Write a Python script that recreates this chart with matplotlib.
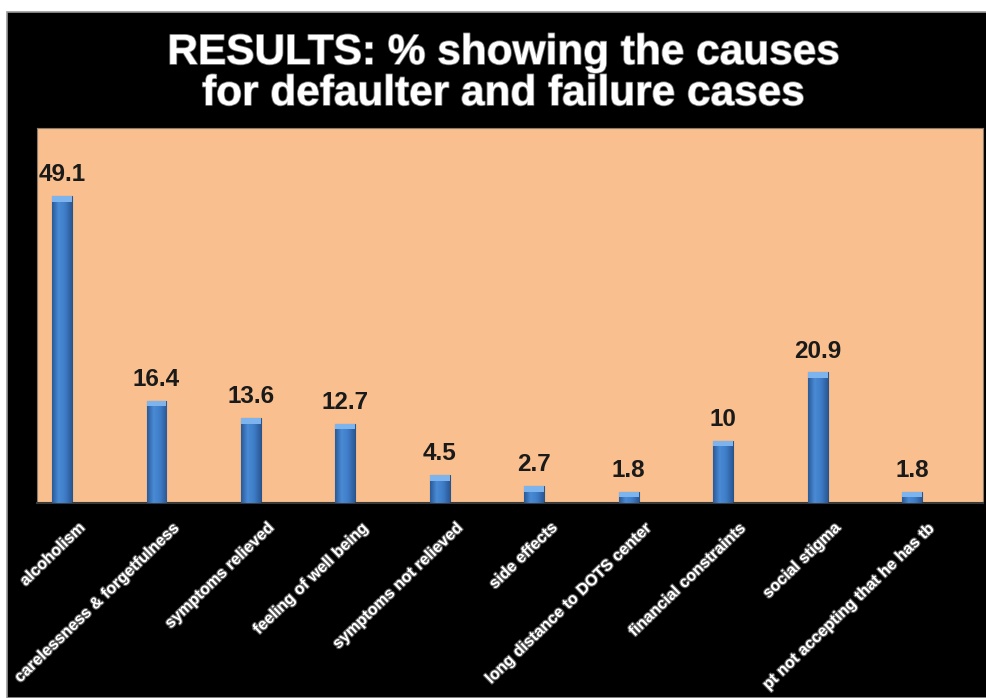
import numpy as np
import matplotlib
matplotlib.use("Agg")
import matplotlib.pyplot as plt
import matplotlib.patheffects as pe
from matplotlib.patches import Rectangle
from matplotlib.colors import LinearSegmentedColormap
from matplotlib.transforms import ScaledTranslation

# ------------------------------
#    DATA
# ------------------------------
causes = [
    "alcoholism",
    "carelessness & forgetfulness",
    "symptoms relieved",
    "feeling of well being",
    "symptoms not relieved",
    "side effects",
    "long distance to DOTS center",
    "financial constraints",
    "social stigma",
    "pt not accepting that he has tb",
]
percent = [49.1, 16.4, 13.6, 12.7, 4.5, 2.7, 1.8, 10, 20.9, 1.8]

title_lines = ["RESULTS: % showing the causes", "for defaulter and failure cases"]

plt.rcParams['font.family'] = ['Liberation Sans', 'DejaVu Sans']

W, H = 986, 698
fig = plt.figure(figsize=(W / 100, H / 100), dpi=100, facecolor='white')

# black slide background with a thin gray frame (behind the axes)
fig.patches.append(Rectangle((7 / W, 0), 1, (H - 12) / H, transform=fig.transFigure,
                             facecolor='black', edgecolor='#9a9a9a', lw=1.2, zorder=-10))

ax = fig.add_axes([37 / W, 1 - 503 / H, (983 - 37) / W, (503 - 128) / H])
ax.set_facecolor('#F9BF8E')

x = np.arange(len(causes))
bars = ax.bar(x, percent, width=0.21, color='#3C7AC4', edgecolor='#2A5488', lw=0.8, zorder=2)

# cylinder-ish shading on each bar
shade = LinearSegmentedColormap.from_list('shade', ['#2A5A98', '#4A8BD6', '#3E7CC6', '#2A5A98'])
grad = np.linspace(0, 1, 64).reshape(1, -1)
for b in bars:
    x0, w, h = b.get_x(), b.get_width(), b.get_height()
    im = ax.imshow(grad, extent=[x0, x0 + w, 0, h], cmap=shade, aspect='auto', zorder=3)
    im.set_clip_path(b)
    cap = min(0.9, h)
    ax.bar(x0 + w / 2, cap, width=w, bottom=h - cap, color='#7DB4EE', lw=0, zorder=4)

ax.set_xlim(-0.265, 9.75)
ax.set_ylim(0, 60)

# value labels
for xi, v in zip(x, percent):
    ax.annotate(f"{v:g}", (xi, v), xytext=(0, 7), textcoords='offset points',
                ha='center', va='bottom', fontsize=17.5, fontweight='bold', color='#1a1a1a', zorder=5)

ax.set_yticks([])
ax.set_xticks(x)
ax.set_xticklabels(causes, rotation=44, ha='right', va='top', fontsize=11.5,
                   fontweight='bold', color='white')
ax.tick_params(axis='x', length=0, pad=12)
offset = ScaledTranslation(0.26, 0, fig.dpi_scale_trans)
for lbl in ax.get_xticklabels():
    lbl.set_transform(lbl.get_transform() + offset)
    lbl.set_path_effects([pe.withStroke(linewidth=1.6, foreground='#5a5a5a')])

for s in ['top', 'left', 'right']:
    ax.spines[s].set_color('#8a7a6a')
    ax.spines[s].set_linewidth(0.8)
ax.spines['bottom'].set_color('#3a3a3a')
ax.spines['bottom'].set_linewidth(1.5)

# title, two centred lines
for line, yb in zip(title_lines, [64, 105]):
    fig.text(504 / W, 1 - yb / H, line, ha='center', va='baseline', fontsize=30.5,
             fontweight='bold', color='white',
             path_effects=[pe.withStroke(linewidth=1.2, foreground='#777777')])

fig.savefig('out.png', dpi=100, facecolor='white')
